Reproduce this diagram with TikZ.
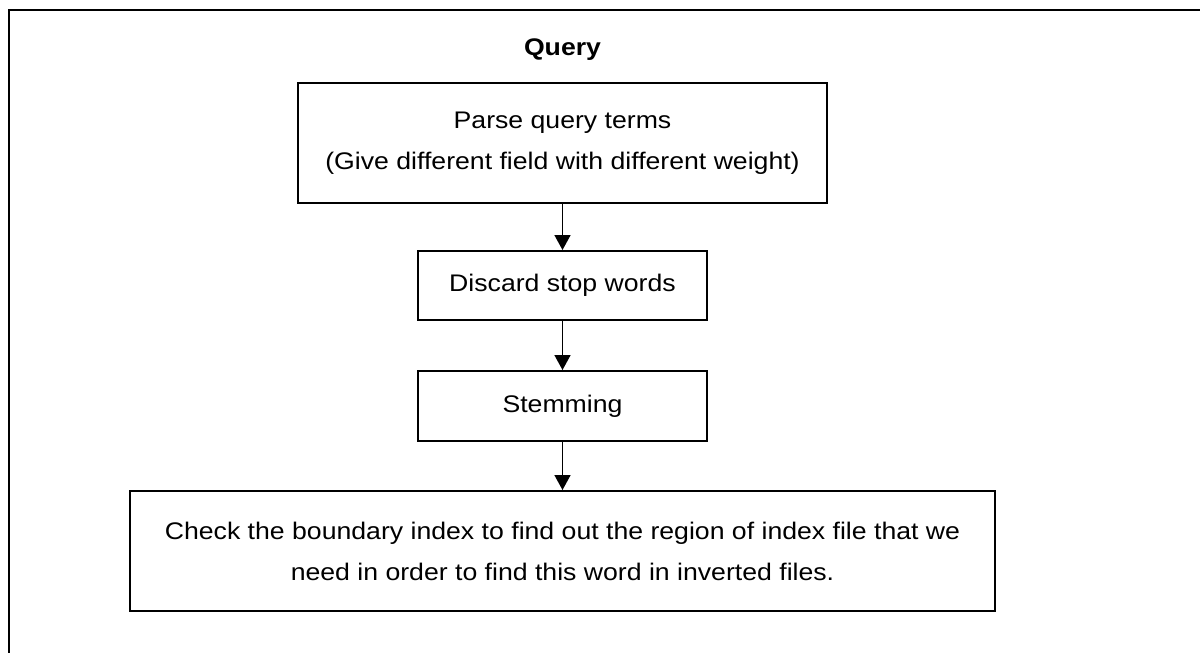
\documentclass[tikz,border=0pt]{standalone}
\usepackage{fontspec}
\setmainfont[FakeStretch=1.11]{Liberation Sans}
\usetikzlibrary{arrows.meta}
\begin{document}
\begin{tikzpicture}[x=0.5pt, y=-0.5pt, >={Triangle[width=8pt,length=7.5pt]}]
        \tikzset{every node/.style={rectangle, draw, line width=1pt, align=center, inner sep=0pt, font=\fontsize{12pt}{20.5pt}\selectfont}}
        \useasboundingbox (0,0) rectangle (1200,653);
        \draw[line width=1.4pt] (1200,10) -- (9,10) -- (9,653);
        \node[draw=none, anchor=base, font=\fontsize{12pt}{20.5pt}\selectfont\bfseries] (query) at (562.5,55) {Query};
        \node[minimum width=264.5pt, minimum height=60pt] (parse) at (562.5,143) {Parse query terms\\(Give different field with different weight)};
        \node[minimum width=144.5pt, minimum height=34.5pt] (discard) at (562.5,285.5) {Discard stop words};
        \node[minimum width=144.5pt, minimum height=35pt] (stem) at (562.5,406) {Stemming};
        \node[minimum width=432.5pt, minimum height=60pt] (check) at (562.5,551) {Check the boundary index to find out the region of index file that we\\need in order to find this word in inverted files.};
        \draw[->, line width=0.8pt] (parse) -- (discard);
        \draw[->, line width=0.8pt] (discard) -- (stem);
        \draw[->, line width=0.8pt] (stem) -- (check);
    \end{tikzpicture}
\end{document}
